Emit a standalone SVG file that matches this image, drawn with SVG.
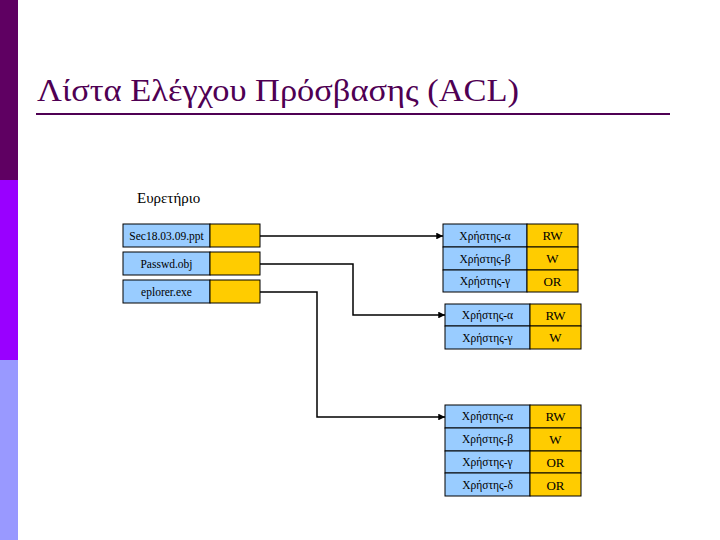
<svg xmlns="http://www.w3.org/2000/svg" width="720" height="540" viewBox="0 0 720 540">
<style>
.t{font-family:"Liberation Serif","DejaVu Serif",serif;fill:#000;font-size:11.5px;text-anchor:middle}
.r{font-size:13px}
.b{fill:#99ccff;stroke:#000;stroke-width:1}
.o{fill:#ffcc00;stroke:#000;stroke-width:1}
.c{fill:none;stroke:#000;stroke-width:1.5}
</style>
<defs>
<marker id="ah" viewBox="0 0 10 10" refX="10" refY="5" markerWidth="5" markerHeight="4.5" markerUnits="strokeWidth" orient="auto">
<path d="M0,0 L10,5 L0,10 z" fill="#000"/>
</marker>
</defs>
<rect width="720" height="540" fill="#fff"/>
<g id="sidebar">
<rect x="0" y="0" width="18" height="180" fill="#5f0062"/>
<rect x="0" y="180" width="18" height="180" fill="#9900ff"/>
<rect x="0" y="360" width="18" height="180" fill="#9999ff"/>
</g>
<g id="title">
<text x="37" y="101" font-family="Liberation Serif,DejaVu Serif,serif" font-size="31" fill="#4f0053" textLength="482" lengthAdjust="spacingAndGlyphs">Λίστα Ελέγχου Πρόσβασης (ACL)</text>
<line x1="36" y1="114" x2="670" y2="114" stroke="#4f0053" stroke-width="2"/>
</g>
<text id="index-label" x="137" y="203" font-family="Liberation Serif,DejaVu Serif,serif" font-size="15" fill="#000">Ευρετήριο</text>
<g id="idx1"><rect class="b" x="123" y="224" width="87" height="23"/><rect class="o" x="210" y="224" width="50" height="23"/><text class="t" x="166.5" y="240">Sec18.03.09.ppt</text></g>
<g id="idx2"><rect class="b" x="123" y="252" width="87" height="23"/><rect class="o" x="210" y="252" width="50" height="23"/><text class="t" x="166.5" y="268">Passwd.obj</text></g>
<g id="idx3"><rect class="b" x="123" y="280" width="87" height="23"/><rect class="o" x="210" y="280" width="50" height="23"/><text class="t" x="166.5" y="296">eplorer.exe</text></g>
<g id="acl1">
<rect class="b" x="443" y="224" width="84" height="23"/><rect class="o" x="527" y="224" width="51" height="23"/>
<rect class="b" x="443" y="247" width="84" height="23"/><rect class="o" x="527" y="247" width="51" height="23"/>
<rect class="b" x="443" y="270" width="84" height="22"/><rect class="o" x="527" y="270" width="51" height="22"/>
<text class="t" x="485" y="240">Χρήστης-α</text><text class="t r" x="552.5" y="240">RW</text>
<text class="t" x="485" y="263">Χρήστης-β</text><text class="t r" x="552.5" y="263">W</text>
<text class="t" x="485" y="285">Χρήστης-γ</text><text class="t r" x="552.5" y="286">OR</text>
</g>
<g id="acl2">
<rect class="b" x="445" y="304" width="85" height="22"/><rect class="o" x="530" y="304" width="51" height="22"/>
<rect class="b" x="445" y="326" width="85" height="23"/><rect class="o" x="530" y="326" width="51" height="23"/>
<text class="t" x="487.5" y="319">Χρήστης-α</text><text class="t r" x="555.5" y="320">RW</text>
<text class="t" x="487.5" y="342">Χρήστης-γ</text><text class="t r" x="555.5" y="342">W</text>
</g>
<g id="acl3">
<rect class="b" x="445" y="405" width="85" height="23"/><rect class="o" x="530" y="405" width="51" height="23"/>
<rect class="b" x="445" y="428" width="85" height="23"/><rect class="o" x="530" y="428" width="51" height="23"/>
<rect class="b" x="445" y="451" width="85" height="22"/><rect class="o" x="530" y="451" width="51" height="22"/>
<rect class="b" x="445" y="473" width="85" height="23"/><rect class="o" x="530" y="473" width="51" height="23"/>
<text class="t" x="487.5" y="420">Χρήστης-α</text><text class="t r" x="555.5" y="421">RW</text>
<text class="t" x="487.5" y="443">Χρήστης-β</text><text class="t r" x="555.5" y="444">W</text>
<text class="t" x="487.5" y="466">Χρήστης-γ</text><text class="t r" x="555.5" y="467">OR</text>
<text class="t" x="487.5" y="489">Χρήστης-δ</text><text class="t r" x="555.5" y="490">OR</text>
</g>
<g id="connectors">
<path class="c" stroke-width="2" d="M260,236 H443" marker-end="url(#ah)"/>
<path class="c" d="M260,264 H353 V315 H445" marker-end="url(#ah)"/>
<path class="c" d="M260,292 H317 V417 H445" marker-end="url(#ah)"/>
</g>
</svg>
